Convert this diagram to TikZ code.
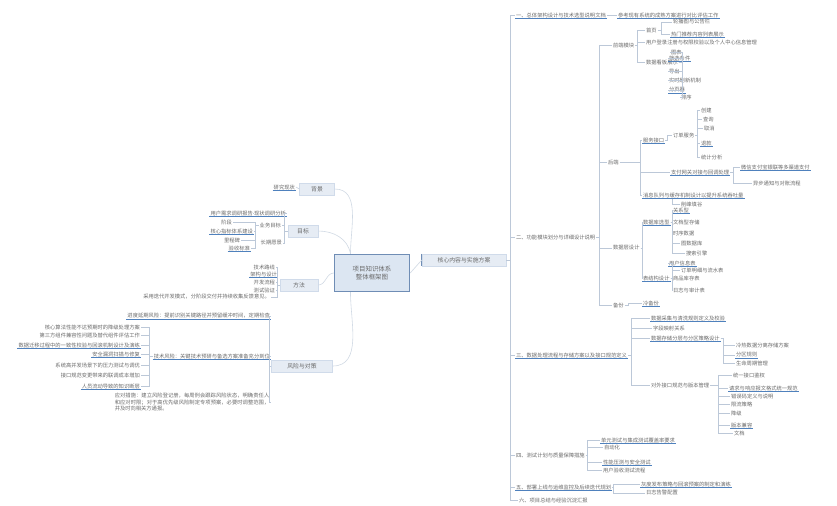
\documentclass[tikz,border=0pt]{standalone}
\usepackage{fontspec}
\newfontfamily\cjk{Noto Sans CJK SC}
\XeTeXlinebreaklocale "zh"
\XeTeXlinebreakskip = 0pt plus 1pt
\usetikzlibrary{positioning, calc}
\definecolor{ctrfill}{HTML}{DCE6F2}
\definecolor{ctrbd}{HTML}{6F8DB5}
\definecolor{mainfill}{HTML}{E6ECF4}
\definecolor{mainbd}{HTML}{D0DBEA}
\definecolor{ulblue}{HTML}{4F81BD}
\definecolor{connc}{HTML}{BCC8D8}
\definecolor{txt}{HTML}{6A6A6A}

\begin{document}
\begin{tikzpicture}[
  x=0.3mm, y=-0.3mm,
  every node/.style={font=\cjk\fontsize{4.5}{5.4}\selectfont, text=txt, inner sep=0.8pt},
  central/.style={draw=ctrbd, line width=1.2pt, fill=ctrfill, minimum width=22.5mm,
    minimum height=11.1mm, align=center, font=\cjk\fontsize{5.5}{7}\selectfont},
  main/.style={draw=mainbd, line width=0.4pt, fill=mainfill, minimum height=3.6mm,
    inner sep=1.5pt, font=\cjk\fontsize{5}{6}\selectfont},
  leaf/.style={anchor=west},
  leafl/.style={anchor=east},
  uline/.style={draw=ulblue, line width=0.8pt},
  ul/.style={append after command={(\tikzlastnode.south west) edge[uline] (\tikzlastnode.south east)}},
  conn/.style={draw=connc, line width=0.4pt},
  branch/.style={draw=connc!70, line width=0.5pt},
]

% Canvas
\fill[white] (0,0) rectangle (837,505);
\useasboundingbox (0,0) rectangle (837,505);

% =============================================
% Centre and main topics
% =============================================
\node[central] (C) at (372,273) {项目知识体系\\整体框架图};

\node[main, minimum width=25.2mm] (R) at (464,260) {核心内容与实施方案};
\draw[ctrbd, line width=1pt] (R.north west) -- (R.south west);

\node[main, minimum width=10.5mm] (L1) at (317,189) {背景};
\node[main, minimum width=9mm] (L2) at (303,231) {目标};
\node[main, minimum width=11.4mm] (L3) at (299,285) {方法};
\node[main, minimum width=18.3mm] (L4) at (302,366) {风险与对策};

\coordinate (ctop) at ([xshift=5mm]C.north west);
\coordinate (cbot) at ([xshift=5mm]C.south west);
\draw[branch] (C.east) -- (R.west);
\draw[branch] (ctop) to[out=90, in=0] (L1.east);
\draw[branch] (ctop) to[out=100, in=0] (L2.east);
\draw[branch] (C.west) to[out=180, in=0] (L3.east);
\draw[branch] (cbot) to[out=-90, in=0] (L4.east);

% =============================================
% Left side
% =============================================
\node[leafl, ul] (l1a) at (296,187) {研究现状};
\draw[conn] (L1.west) -- (l1a.east);

\node[leafl, ul] (l2a) at (287,213) {现状调研分析};
\node[leafl, ul] (l2a1) at (254,213) {用户需求调研报告};
\node[leafl] (l2b) at (282,225) {业务目标};
\node[leafl] (l2b1) at (233,222) {阶段};
\node[leafl, ul] (l2b2) at (254,231) {核心指标体系建设};
\node[leafl] (l2b3) at (241,240) {里程碑};
\node[leafl, ul] (l2b4) at (251,248) {验收标准};
\node[leafl] (l2c) at (283,243) {长期愿景};
\foreach \c in {l2a,l2b,l2c} \draw[conn] (L2.west) -- ++(-4,0) |- (\c.east);
\draw[conn] (l2a.west) -- (l2a1.east);
\foreach \c in {l2b1,l2b2,l2b3,l2b4} \draw[conn] (l2b.west) -- ++(-3,0) |- (\c.east);

\node[leafl] (l3a) at (276,267) {技术路线};
\node[leafl, ul] (l3b) at (278,274) {架构与设计};
\node[leafl] (l3c) at (276,282) {开发流程};
\node[leafl] (l3d) at (276,290) {测试验证};
\node[leafl] (l3e) at (271,297) {采用迭代开发模式，分阶段交付并持续收集反馈意见。};
\foreach \c in {l3a,l3b,l3c,l3d,l3e} \draw[conn] (L3.west) -- ++(-3,0) |- (\c.east);

\node[leafl, ul] (l4a) at (271,316) {进度延期风险：提前识别关键路径并预留缓冲时间，定期检查};
\node[leafl, ul] (l4b) at (271,356) {技术风险：关键技术预研与备选方案准备充分到位};
\node[leafl, text width=46.5mm, align=left] (l4c) at (271,402)
  {应对措施：建立风险登记册，每周例会跟踪风险状态，明确责任人和应对时限；对于高优先级风险制定专项预案，必要时调整范围，并及时向相关方通报。};
\foreach \c in {l4a,l4b,l4c} \draw[conn] (L4.west) -- ++(-2,0) |- (\c.east);

\node[leafl] (w1) at (141,327) {核心算法性能不达预期时的降级处理方案};
\node[leafl] (w2) at (141,335) {第三方组件兼容性问题及替代组件评估工作};
\node[leafl, ul] (w3) at (141,345) {数据迁移过程中的一致性校验与回滚机制设计及演练};
\node[leafl, ul] (w4) at (141,354) {安全漏洞扫描与修复};
\node[leafl] (w5) at (141,365) {系统高并发场景下的压力测试与调优};
\node[leafl] (w6) at (141,375) {接口规范变更带来的联调成本增加};
\node[leafl, ul] (w7) at (141,386) {人员流动导致的知识断层};
\foreach \c in {w1,w2,w3,w4,w5,w6,w7} \draw[conn] (l4b.west) -- ++(-3,0) |- (\c.east);

% =============================================
% Right side: first level
% =============================================
\node[leaf, ul] (s1) at (515,15) {一、总体架构设计与技术选型说明文档};
\node[leaf, ul] (s1a) at (617,15) {参考现有系统的成熟方案进行对比评估工作};
\node[leaf] (s2) at (515,237) {二、功能模块划分与详细设计说明};
\node[leaf, ul] (s3) at (515,355) {三、数据处理流程与存储方案以及接口规范定义};
\node[leaf] (s4) at (515,455) {四、测试计划与质量保障措施};
\node[leaf, ul] (s5) at (515,487) {五、部署上线与运维监控及后续迭代规划};
\node[leaf] (s6) at (518,500) {六、项目总结与经验沉淀汇报};
\foreach \c in {s1,s2,s3,s4,s5,s6} \draw[conn] (R.east) -- ++(4,0) |- (\c.west);
\draw[conn] (s1.east) -- (s1a.west);

% =============================================
% s2: modules
% =============================================
\node[leaf] (t0) at (612,45) {前端模块};
\node[leaf] (m0) at (607,162) {后端};
\node[leaf] (n0) at (612,248) {数据层设计};
\node[leaf] (p0) at (612,305) {备份};
\foreach \c in {t0,m0,n0,p0} \draw[conn] (s2.east) -- ++(3,0) |- (\c.west);

\node[leaf] (t1) at (645,30) {首页};
\node[leaf] (t2) at (645,42) {用户登录注册与权限校验以及个人中心信息管理};
\node[leaf] (t3) at (645,62) {数据看板展示};
\foreach \c in {t1,t2,t3} \draw[conn] (t0.east) -- ++(2,0) |- (\c.west);
\node[leaf] (t1a) at (672,22) {轮播图与公告栏};
\node[leaf, ul] (t1b) at (670,34) {热门推荐内容列表展示};
\foreach \c in {t1a,t1b} \draw[conn] (t1.east) -- ++(3,0) |- (\c.west);
\node[leaf] (t3a) at (670,52) {图表};
\node[leaf, ul] (t3b) at (668,58) {筛选条件};
\node[leaf] (t3c) at (668,71) {导出};
\node[leaf] (t3d) at (668,80) {实时刷新机制};
\node[leaf, ul] (t3e) at (668,90) {分页器};
\node[leaf] (t3f) at (680,97) {排序};
\foreach \c in {t3a,t3b,t3c,t3d,t3e,t3f} \draw[conn] (t3.east) -- ++(3,0) |- (\c.west);

\node[leaf, ul] (m1) at (642,140) {服务接口};
\node[leaf, ul] (m2) at (670,172) {支付网关对接与回调处理};
\node[leaf, ul] (m3) at (642,195) {消息队列与缓存机制设计以提升系统吞吐量};
\foreach \c in {m1,m2,m3} \draw[conn] (m0.east) -- ++(20,0) |- (\c.west);
\node[leaf] (m1a) at (672,135) {订单服务};
\draw[conn] (m1.east) -- ++(2,0) |- (m1a.west);
\node[leaf] (m1a1) at (700,110) {创建};
\node[leaf] (m1a2) at (702,119) {查询};
\node[leaf] (m1a3) at (703,128) {取消};
\node[leaf, ul] (m1a4) at (700,143) {退款};
\node[leaf] (m1a5) at (700,157) {统计分析};
\foreach \c in {m1a1,m1a2,m1a3,m1a4,m1a5} \draw[conn] (m1a.east) -- ++(2,0) |- (\c.west);
\node[leaf, ul] (m2a) at (740,167) {微信支付宝银联等多渠道支付};
\node[leaf] (m2b) at (752,183) {异步通知与对账流程};
\foreach \c in {m2a,m2b} \draw[conn] (m2.east) -- ++(3,0) |- (\c.west);
\node[leaf] (m3a) at (680,204) {削峰填谷};
\draw[conn] (m3.south west) ++(30,0) |- (m3a.west);

\node[leaf, ul] (n1) at (642,222) {数据库选型};
\node[leaf, ul] (n2) at (642,278) {表结构设计};
\foreach \c in {n1,n2} \draw[conn] (n0.east) -- ++(2,0) |- (\c.west);
\node[leaf, ul] (n1a) at (672,210) {关系型};
\node[leaf] (n1b) at (672,222) {文档型存储};
\node[leaf] (n1c) at (672,233) {时序数据};
\node[leaf] (n1d) at (680,243) {图数据库};
\node[leaf] (n1e) at (685,253) {搜索引擎};
\foreach \c in {n1a,n1b,n1c,n1d,n1e} \draw[conn] (n1.east) -- ++(2,0) |- (\c.west);
\node[leaf, ul] (n2a) at (668,263) {用户信息表};
\node[leaf] (n2b) at (680,270) {订单明细与流水表};
\node[leaf] (n2c) at (672,278) {商品库存表};
\node[leaf] (n2d) at (672,290) {日志与审计表};
\foreach \c in {n2a,n2b,n2c,n2d} \draw[conn] (n2.east) -- ++(2,0) |- (\c.west);
\node[leaf, ul] (n3) at (642,303) {冷备份};
\draw[conn] (p0.east) -- ++(3,0) |- (n3.west);

% =============================================
% s3: data flow
% =============================================
\node[leaf, ul] (u1) at (650,318) {数据采集与清洗规则定义及校验};
\node[leaf] (u2) at (652,328) {字段映射关系};
\node[leaf, ul] (u3) at (650,338) {数据存储分层与分区策略设计};
\node[leaf] (u4) at (650,385) {对外接口规范与版本管理};
\foreach \c in {u1,u2,u3,u4} \draw[conn] (s3.east) -- ++(3,0) |- (\c.west);
\node[leaf] (u3a) at (735,345) {冷热数据分离存储方案};
\node[leaf, ul] (u3b) at (735,355) {分区规则};
\node[leaf] (u3c) at (735,363) {生命周期管理};
\foreach \c in {u3a,u3b,u3c} \draw[conn] (u3.east) -- ++(2,0) |- (\c.west);
\node[leaf] (u4a) at (732,375) {统一接口鉴权};
\node[leaf, ul] (u4b) at (728,388) {请求与响应报文格式统一规范};
\node[leaf] (u4c) at (730,396) {错误码定义与说明};
\node[leaf] (u4d) at (730,404) {限流策略};
\node[leaf] (u4e) at (730,413) {降级};
\node[leaf, ul] (u4f) at (730,425) {版本兼容};
\node[leaf] (u4g) at (733,433) {文档};
\foreach \c in {u4a,u4b,u4c,u4d,u4e,u4f,u4g} \draw[conn] (u4.east) -- ++(8,0) |- (\c.west);

% =============================================
% s4 / s5: tests and deployment
% =============================================
\node[leaf, ul] (v1) at (600,440) {单元测试与集成测试覆盖率要求};
\node[leaf] (v2) at (603,447) {自动化};
\node[leaf, ul] (v3) at (602,462) {性能压测与安全测试};
\node[leaf] (v4) at (602,470) {用户验收测试流程};
\foreach \c in {v1,v2,v3,v4} \draw[conn] (s4.east) -- ++(1,0) |- (\c.west);

\node[leaf, ul] (s5a) at (640,484) {灰度发布策略与回滚预案的制定和演练};
\node[leaf] (s5b) at (645,493) {日志告警配置};
\foreach \c in {s5a,s5b} \draw[conn] (s5.east) -- ++(1,0) |- (\c.west);

\end{tikzpicture}
\end{document}
